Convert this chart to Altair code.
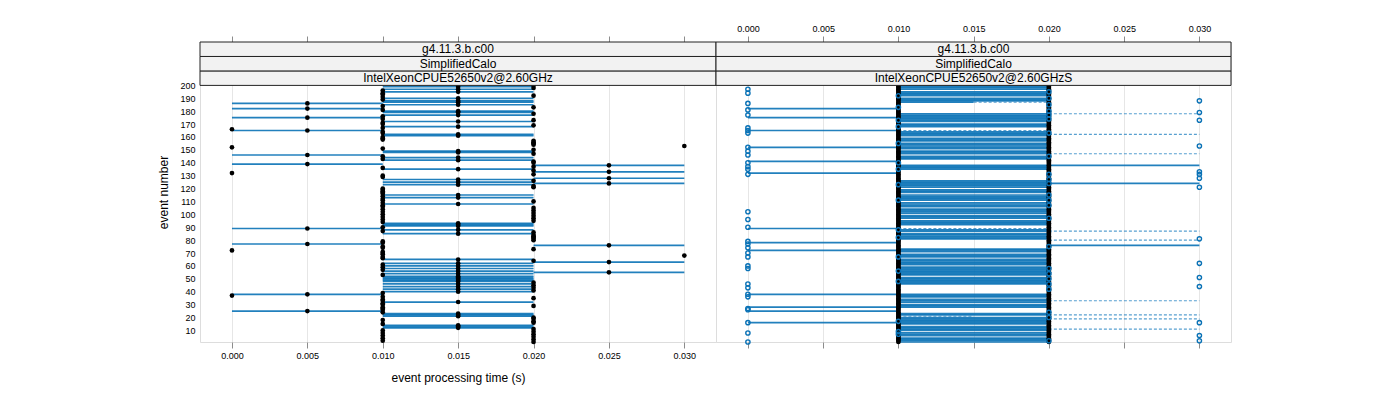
import altair as alt
import pandas as pd

FONT = "Liberation Sans"
BLUE = "#0a72b6"

EVENTS = list(range(1, 201))
X_TICKS = [0.000, 0.005, 0.010, 0.015, 0.020, 0.025, 0.030]
Y_TICKS = [10, 20, 30, 40, 50, 60, 70, 80, 90, 100, 110, 120, 130, 140, 150, 160, 170, 180, 190, 200]
STRIPS_LEFT = ["IntelXeonCPUE52650v2@2.60GHz", "SimplifiedCalo", "g4.11.3.b.c00"]
STRIPS_RIGHT = ["IntelXeonCPUE52650v2@2.60GHzS", "SimplifiedCalo", "g4.11.3.b.c00"]

# ---- left panel: event number per time column (s)
left_t000 = [166, 152, 132, 72, 37]
left_t005 = [186, 182, 175, 165, 146, 139, 89, 77, 38, 25]
left_t010 = [196, 194, 193, 191, 189, 184, 181, 176, 174, 171, 170, 167, 164, 163, 160, 159, 158,
             151, 145, 143, 136, 130, 129, 120, 119, 118, 117, 116, 114, 112, 111, 109, 107, 106,
             104, 102, 100, 98, 96, 94, 90, 87, 79, 78, 75, 74, 71, 70, 69, 67, 66, 61, 59, 57, 53,
             39, 36, 34, 33, 31, 30, 28, 27, 26, 24, 18, 15, 10, 8, 6, 4, 2]
left_t015 = [199, 197, 195, 190, 188, 187, 185, 180, 179, 177, 172, 168, 162, 161, 149, 148, 144,
             142, 135, 127, 125, 123, 115, 113, 108, 93, 92, 91, 88, 85, 65, 62, 60, 58, 56, 54, 52,
             51, 50, 49, 48, 46, 44, 42, 40, 32, 23, 22, 21, 14, 13, 12]
left_t020 = [200, 198, 192, 183, 178, 173, 169, 157, 156, 155, 154, 150, 147, 141, 140, 137, 134,
             131, 126, 122, 121, 110, 105, 103, 101, 99, 97, 95, 86, 84, 83, 82, 81, 80, 73, 64, 47,
             45, 43, 41, 35, 29, 20, 19, 17, 16, 11, 9, 7, 5, 3, 1]
left_t025 = [138, 133, 128, 124, 76, 63, 55]
left_t030 = [153, 68]

# left panel ranges: (events, low, high)
left_ranges = [
    (left_t005, 0.000, 0.010),
    (left_t015, 0.010, 0.020),
    (left_t025, 0.020, 0.030),
]

# ---- right panel
right_black010 = EVENTS
right_black020 = EVENTS
right_open000 = [197, 194, 186, 181, 177, 167, 165, 163, 152, 149, 146, 140, 137, 135, 131, 102, 96,
                 90, 79, 77, 74, 70, 67, 60, 58, 46, 43, 38, 36, 27, 26, 16, 8, 1]
right_open010 = [192, 183, 173, 168, 155, 140, 135, 123, 111, 88, 82, 67, 56, 48, 17, 9, 7]
right_open020 = [195, 190, 185, 180, 177, 174, 163, 145, 131, 127, 124, 115, 111, 107, 97, 75, 58,
                 54, 50, 46, 42, 24, 20, 2]
right_open030 = [188, 179, 173, 153, 133, 131, 128, 121, 81, 62, 51, 44, 16, 6, 2]

right_solid_000_010 = [182, 175, 165, 152, 141, 132, 89, 78, 72, 38, 28, 25, 16]
right_solid_010_020 = [200, 199, 198, 197, 195, 194, 193, 192, 190, 189, 188, 178, 177, 176, 175,
                       174, 173, 172, 170, 169, 168, 164, 163, 162, 161, 159, 158, 157, 155, 154,
                       153, 152, 151, 149, 148, 147, 145, 144, 143, 138, 137, 136, 135, 126, 125,
                       124, 123, 122, 121, 119, 118, 117, 115, 114, 113, 112, 111, 109, 108, 107,
                       106, 104, 103, 102, 101, 99, 98, 97, 95, 94, 93, 92, 88, 87, 85, 84, 83,
                       82, 81, 73, 72, 71, 69, 68, 67, 65, 64, 63, 62, 61, 59, 58, 57, 56, 55, 54,
                       53, 51, 50, 49, 48, 47, 46, 38, 37, 36, 34, 33, 32, 30, 29, 28, 23, 22, 20,
                       19, 18, 17, 16, 15, 13, 12, 11, 10, 8, 7, 6, 4, 3, 2, 1]
right_solid_010_015 = [187]
right_solid_020_030 = [138, 124, 76]
right_dash_010_020 = [165, 89]
right_dash_015_020 = [187]
right_dash_010_015 = [21]
right_dash_020_030 = [178, 162, 147, 87, 80, 33, 22, 19, 11]

right_ranges = [
    (right_solid_000_010, 0.000, 0.010, "solid"),
    (right_solid_010_020, 0.010, 0.020, "solid"),
    (right_solid_010_015, 0.010, 0.015, "solid"),
    (right_solid_020_030, 0.020, 0.030, "solid"),
    (right_dash_010_020, 0.010, 0.020, "dash"),
    (right_dash_015_020, 0.015, 0.020, "dash"),
    (right_dash_010_015, 0.010, 0.015, "dash"),
    (right_dash_020_030, 0.020, 0.030, "dash"),
]

# ---- layout constants
W_LEFT = 516
W_RIGHT = 515
H = 300
X_DOMAIN = [-0.00212, 0.0321]
Y_DOMAIN = [1, 233.65]
STRIP_EDGES = [200, 211.22, 222.43, 233.65]


def dots_df(pairs):
    rows = []
    for events, t in pairs:
        for e in events:
            rows.append({"event": e, "t": t})
    return pd.DataFrame(rows)


def seg_df(ranges):
    rows = []
    for item in ranges:
        events, lo, hi = item[0], item[1], item[2]
        kind = item[3] if len(item) > 3 else "solid"
        for e in events:
            rows.append({"event": e, "lo": lo, "hi": hi, "kind": kind})
    return pd.DataFrame(rows)


def strip_df(labels):
    return pd.DataFrame({
        "label": labels,
        "y0": STRIP_EDGES[:-1],
        "y1": STRIP_EDGES[1:],
        "ym": [(a + b) / 2 for a, b in zip(STRIP_EDGES[:-1], STRIP_EDGES[1:])],
    })


xs = alt.Scale(domain=X_DOMAIN, nice=False, zero=False)
ys = alt.Scale(domain=Y_DOMAIN, nice=False, zero=False)


def x_axis(orient, labels, title=None, grid=False):
    kw = dict(orient=orient, values=X_TICKS, format=".3f", labels=labels, tickSize=6,
              tickColor="#8c8c8c", tickWidth=1, domain=False, grid=grid, gridColor="#e6e6e6",
              labelFontSize=9, labelPadding=3, labelColor="#000", labelFont=FONT)
    if title:
        kw.update(title=title, titleFontSize=12, titleFontWeight="normal", titlePadding=12,
                  titleFont=FONT, titleColor="#000")
    else:
        kw.update(title=None)
    return alt.Axis(**kw)


def panel(width, dots, opens, segs, strips, bottom_labels, top_labels, show_y):
    layers = []
    solid = segs[segs["kind"] == "solid"]
    dash = segs[segs["kind"] == "dash"]
    yax = None
    if show_y:
        yax = alt.Axis(values=Y_TICKS, title="event number", ticks=False, domain=False,
                       labelFontSize=9, labelPadding=5, labelColor="#000", labelFont=FONT,
                       labelOverlap=False, labelBound=False,
                       titleFontSize=12, titleFontWeight="normal", titlePadding=9,
                       titleFont=FONT, titleColor="#000", grid=False)
    layers.append(
        alt.Chart(solid).mark_rule(color=BLUE, strokeWidth=1.7, opacity=0.9).encode(
            x=alt.X("lo:Q", scale=xs, axis=x_axis("top", top_labels)),
            x2="hi:Q",
            y=alt.Y("event:Q", scale=ys, axis=yax),
        )
    )
    if len(dash):
        layers.append(
            alt.Chart(dash).mark_rule(color="#3b8fc8", strokeWidth=1.2, strokeDash=[3, 2],
                                      opacity=0.85).encode(
                x=alt.X("lo:Q", scale=xs, axis=None),
                x2="hi:Q",
                y=alt.Y("event:Q", scale=ys, axis=yax),
            )
        )
    layers.append(
        alt.Chart(dots).mark_circle(color="black", size=22, opacity=1).encode(
            x=alt.X("t:Q", scale=xs,
                    axis=x_axis("bottom", bottom_labels,
                                "event processing time (s)" if bottom_labels else None, grid=True)),
            y=alt.Y("event:Q", scale=ys, axis=yax),
        )
    )
    if opens is not None:
        layers.append(
            alt.Chart(opens).mark_point(shape="circle", filled=False, color=BLUE, size=18,
                                        strokeWidth=1.4, opacity=1).encode(
                x=alt.X("t:Q", scale=xs, axis=None),
                y=alt.Y("event:Q", scale=ys, axis=yax),
            )
        )
    sd = strip_df(strips)
    layers.append(
        alt.Chart(sd).mark_rect(fill="#f2f2f2", stroke="#222", strokeWidth=1).encode(
            x=alt.value(0), x2=alt.value(width),
            y=alt.Y("y0:Q", scale=ys, axis=yax), y2="y1:Q",
        )
    )
    layers.append(
        alt.Chart(sd).mark_text(fontSize=12, font=FONT, color="black", baseline="middle").encode(
            x=alt.value(width / 2),
            y=alt.Y("ym:Q", scale=ys, axis=yax),
            text="label:N",
        )
    )
    return alt.layer(*layers).resolve_axis(x="independent").properties(width=width, height=H)


left_dots = dots_df([(left_t000, 0.000), (left_t005, 0.005), (left_t010, 0.010), (left_t015, 0.015),
                     (left_t020, 0.020), (left_t025, 0.025), (left_t030, 0.030)])
left_segs = seg_df(left_ranges)
right_dots = dots_df([(right_black010, 0.010), (right_black020, 0.020)])
right_opens = dots_df([(right_open000, 0.000), (right_open010, 0.010), (right_open020, 0.020),
                       (right_open030, 0.030)])
right_segs = seg_df(right_ranges)

left = panel(W_LEFT, left_dots, None, left_segs, STRIPS_LEFT, True, False, True)
right = panel(W_RIGHT, right_dots, right_opens, right_segs, STRIPS_RIGHT, False, True, False)

chart = alt.hconcat(left, right, spacing=0, bounds="flush").properties(
    padding={"left": 149, "top": 15, "right": 5, "bottom": 5}
).configure_view(stroke="#555", strokeWidth=1).configure_axis(
    labelOverlap=False
).configure(font=FONT)

chart.save("out.html", embed_options={"renderer": "svg", "actions": False})
